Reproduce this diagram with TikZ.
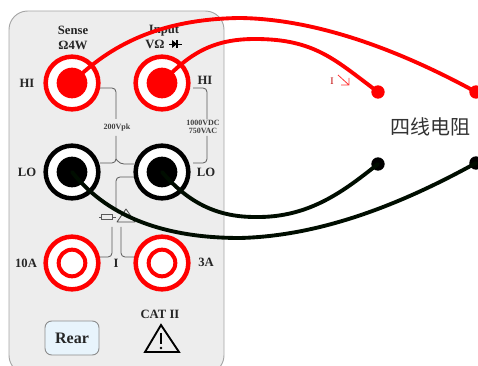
\documentclass[tikz,border=0pt]{standalone}
\usepackage{fontspec}
\setmainfont{Liberation Serif}
\newfontfamily\cjk{Noto Sans CJK SC}
\definecolor{rearfill}{HTML}{E8F4FC}
\begin{document}
\begin{tikzpicture}[x=0.75pt,y=-0.75pt,
 lbl/.style={font=\bfseries\fontsize{9.5}{11}\selectfont,text=black!85,inner sep=0,align=center},
 tiny/.style={font=\bfseries\fontsize{6}{6.5}\selectfont,text=black!75,inner sep=0,align=center},
 trace/.style={draw=black!65,line width=0.6pt,rounded corners=3pt},
 wirer/.style={draw=red,line width=2.9pt,line cap=round},
 wirek/.style={draw=black!95!green,line width=2.9pt,line cap=round},
 outerj/.style={circle,draw=#1,fill=white,line width=3.4pt,minimum size=39.5pt,inner sep=0},
 innerf/.style={circle,fill=#1,minimum size=23pt,inner sep=0},
 innerr/.style={circle,draw=red,fill=white,line width=3pt,minimum size=20pt,inner sep=0},
 dot/.style={circle,inner sep=0,minimum size=10pt,fill=#1}]
\useasboundingbox (0,0) rectangle (478,366);
\clip (0,0) rectangle (478,366);
\draw[draw=black!35,fill=black!7,line width=0.7pt,rounded corners=14pt] (9,11) rectangle (224,374);
% internal traces
\draw[trace] (100,88) -- (116,88) -- (116,119);
\draw[trace] (116,136) -- (116,163) -- (100,163);
\draw[trace] (116,159) -- (120,164) -- (134,164);
\draw[trace] (193,88) -- (207,88) -- (207,119);
\draw[trace] (207,136) -- (207,163) -- (193,163);
\draw[trace] (136,177) -- (116,177) -- (116,208);
\draw[trace] (112,227) -- (112,257) -- (100,257);
\draw[trace] (121,227) -- (121,257) -- (136,257);
% fuse and warning
\draw[draw=black!65,line width=0.6pt] (99,217) -- (116,217);
\draw[draw=black!65,fill=black!7,line width=0.6pt] (101,214.5) rectangle (112,219.5);
\draw[draw=black!70,fill=black!7,line width=0.6pt,line join=round] (117,222) -- (126,209) -- (135,222) -- cycle;
% jacks
\node[outerj=red] (hiS) at (72,83) {};
\node[innerf=red] (hiSc) at (72,83) {};
\node[outerj=red] (hiI) at (162,83) {};
\node[innerf=red] (hiIc) at (162,83) {};
\node[outerj=black] (loS) at (72,172) {};
\node[innerf=black] (loSc) at (72,172) {};
\node[outerj=black] (loI) at (162,172) {};
\node[innerf=black] (loIc) at (162,172) {};
\node[outerj=red] (tenA) at (72,263) {};
\node[innerr] (tenAc) at (72,263) {};
\node[outerj=red] (threeA) at (162,263) {};
\node[innerr] (threeAc) at (162,263) {};
% labels
\node[lbl] (sense) at (73,38) {Sense\\Ω4W};
\node[lbl] (input) at (164,31) {Input};
\node[lbl,anchor=west] (vo) at (145,44) {VΩ};
\draw[black,line width=0.7pt] (169,44) -- (182,44);
\fill[black] (172,40) -- (172,48) -- (177,44) -- cycle;
\draw[black,line width=0.8pt] (177,40) -- (177,48);
\node[lbl] (hi1) at (27,83) {HI};
\node[lbl] (hi2) at (205,80) {HI};
\node[lbl] (lo1) at (27,172) {LO};
\node[lbl] (lo2) at (206,172) {LO};
\node[lbl] (a10) at (26,263) {10A};
\node[lbl] (a3) at (206,262) {3A};
\node[lbl] (ii) at (116,263) {I};
\node[tiny] (v200) at (117,128) {200Vpk};
\node[tiny] (v1000) at (203,127) {1000VDC\\750VAC};
\node[lbl] (cat) at (160,314) {CAT II};
\node[draw=black!45,fill=rearfill,line width=0.7pt,rounded corners=5pt,minimum width=40.5pt,minimum height=25.5pt,inner sep=0,font=\bfseries\fontsize{12}{14}\selectfont,text=black!85] (rear) at (72,338) {Rear};
\draw[black,line width=1.4pt,line join=miter] (145,352) -- (161,325) -- (179,352) -- cycle;
\draw[black,line width=1.4pt] (161,333) -- (161,344);
\fill[black] (161,348) circle (1.1pt);
% terminals and wires
\node[dot=red] (t1) at (378,92) {};
\node[dot=red] (t2) at (476,92) {};
\node[dot=black] (t3) at (378,164) {};
\node[dot=black] (t4) at (476,163) {};
\draw[wirer] (hiSc.center) .. controls (110,45) and (160,19) .. (240,18) .. controls (310,19) and (390,45) .. (t2.center);
\draw[wirer] (hiIc.center) .. controls (190,52) and (215,39) .. (255,39) .. controls (315,39) and (335,60) .. (t1.center);
\draw[wirek] (loIc.center) .. controls (190,205) and (220,217) .. (255,217) .. controls (310,218) and (345,190) .. (t3.center);
\draw[wirek] (loSc.center) .. controls (110,220) and (170,238) .. (240,238) .. controls (320,236) and (400,205) .. (t4.center);
\node[inner sep=0,text=red!75!black,font=\fontsize{7.5}{8}\selectfont] (cur) at (332,81) {I};
\draw[red!80,line width=0.6pt] (338,75) -- (349,85) (349,78) -- (349,85) -- (341,85);
\node[inner sep=0,text=black!80,font=\cjk\fontsize{15}{17}\selectfont] (res) at (430,127) {四线电阻};
\end{tikzpicture}
\end{document}
